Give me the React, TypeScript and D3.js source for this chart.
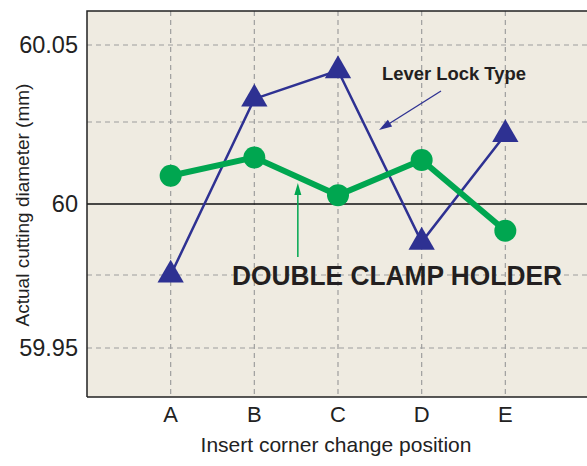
import * as d3 from 'd3';

const positions = ['A', 'B', 'C', 'D', 'E'];
const doubleClamp = [60.0086, 60.0142, 60.0027, 60.0134, 59.9906];
const leverLock = [59.975, 60.0325, 60.0417, 59.9866, 60.0212];
const yTicks = [59.95, 60, 60.05];
const yGrid = [59.95, 59.975, 60.025, 60.05];

const W = 587;
const H = 466;
const left = 87;
const right = 589;
const top = 11;
const bottom = 397;

const green = '#00a650';
const blue = '#2e3192';

export default function App() {
  const x = d3.scalePoint<string>().domain(positions).range([left, right]).padding(1);
  // the source grid is not perfectly even, so map each grid value to where it sits
  const y = d3.scaleLinear()
    .domain([59.95, 59.975, 60, 60.025, 60.05])
    .range([348, 275, 204, 122, 45]);

  const line = d3.line<number>()
    .x((_, i) => x(positions[i])!)
    .y(d => y(d));

  const tri = d3.symbol().type(d3.symbolTriangle).size(300)();

  const arrowHead = (x1: number, y1: number, x2: number, y2: number, len: number, half: number) => {
    const a = Math.atan2(y2 - y1, x2 - x1);
    const bx = x2 - len * Math.cos(a);
    const by = y2 - len * Math.sin(a);
    const px = -Math.sin(a) * half;
    const py = Math.cos(a) * half;
    return `M${x2},${y2}L${bx + px},${by + py}L${bx - px},${by - py}Z`;
  };

  const font = 'Liberation Sans, Arial, Helvetica, sans-serif';
  const step = x.step();
  const gArrowX = x('B')! + step * 0.52;
  const lever = { x1: 441, y1: 91, x2: 379, y2: 130 };

  return (
    <svg width={W} height={H} style={{ position: 'absolute', left: 0, top: 0, display: 'block' }} fontFamily={font}>
      <rect x={0} y={0} width={W} height={H} fill="#fff" />
      <rect x={left} y={top} width={right - left} height={bottom - top} fill="#efebe1" />

      {yGrid.map(v => (
        <line key={v} x1={left} x2={right} y1={y(v)} y2={y(v)} stroke="#9e9e9e" strokeWidth={1.2} strokeDasharray="5,4" />
      ))}
      {positions.map(p => (
        <line key={p} x1={x(p)} x2={x(p)} y1={top} y2={bottom} stroke="#9e9e9e" strokeWidth={1.2} strokeDasharray="5,4" />
      ))}
      <line x1={left} x2={right} y1={y(60)} y2={y(60)} stroke="#111" strokeWidth={1.3} />

      <path d={line(leverLock)!} fill="none" stroke={blue} strokeWidth={2.5} />
      <path d={line(doubleClamp)!} fill="none" stroke={green} strokeWidth={6} strokeLinejoin="round" />
      {leverLock.map((v, i) => (
        <path key={i} d={tri!} transform={`translate(${x(positions[i])},${y(v)})`} fill={blue} />
      ))}
      {doubleClamp.map((v, i) => (
        <circle key={i} cx={x(positions[i])} cy={y(v)} r={11} fill={green} />
      ))}

      <path d={`M${left},${bottom}V${top}H${right}M${left},${bottom}H${right}`} fill="none" stroke="#222" strokeWidth={1.5} />

      {yTicks.map(v => (
        <text key={v} x={78} y={y(v) + 8} textAnchor="end" fontSize={23.5} fill="#222">{v === 60 ? '60' : v.toFixed(2)}</text>
      ))}
      {positions.map(p => (
        <text key={p} x={x(p)} y={422} textAnchor="middle" fontSize={22} fill="#222">{p}</text>
      ))}
      <text x={336} y={452} textAnchor="middle" fontSize={21} fill="#222">Insert corner change position</text>
      <text transform="translate(29,205) rotate(-90)" textAnchor="middle" fontSize={19} fill="#222">Actual cutting diameter (mm)</text>

      <text x={382} y={80} fontSize={18} fontWeight="bold" fill="#231f20" textLength={144} lengthAdjust="spacingAndGlyphs">Lever Lock Type</text>
      <line x1={lever.x1} y1={lever.y1} x2={lever.x2 + 8} y2={lever.y2 - 5} stroke={blue} strokeWidth={1.3} />
      <path d={arrowHead(lever.x1, lever.y1, lever.x2, lever.y2, 13, 4)} fill={blue} />

      <line x1={gArrowX} y1={257} x2={gArrowX} y2={192} stroke={green} strokeWidth={1.5} />
      <path d={arrowHead(gArrowX, 257, gArrowX, 183, 12, 3.5)} fill={green} />
      <text x={232} y={285} fontSize={27} fontWeight="bold" fill="#231f20" textLength={330} lengthAdjust="spacingAndGlyphs">DOUBLE CLAMP HOLDER</text>
    </svg>
  );
}
